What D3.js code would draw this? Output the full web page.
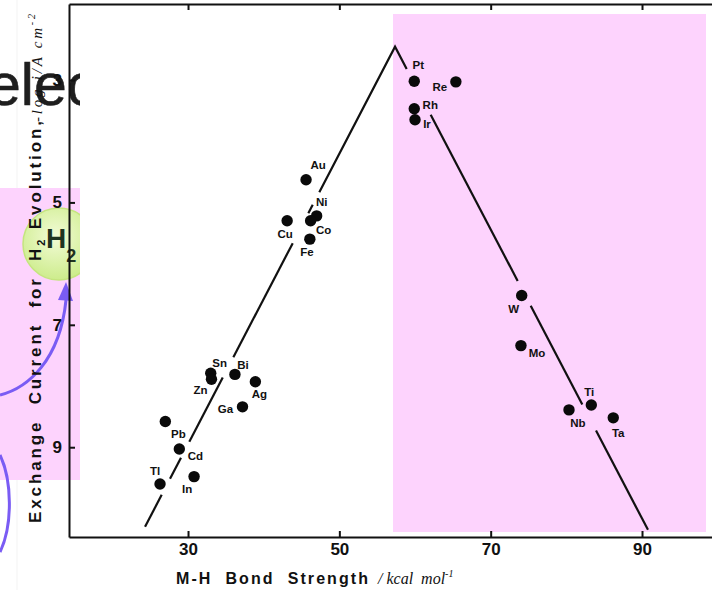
<!DOCTYPE html>
<html>
<head>
<meta charset="utf-8">
<script src="https://cdn.jsdelivr.net/npm/d3@7"></script>
<style>
  html, body { margin: 0; padding: 0; background: #fff; }
  svg { display: block; }
  text { white-space: pre; }
</style>
</head>
<body>
<svg id="chart" width="712" height="590"></svg>
<script>
// Metals and their M-H bond strength (kcal/mol) vs -log of exchange current (A/cm^2)
const metals = ["Pt", "Re", "Rh", "Ir", "Au", "Ni", "Co", "Cu", "Fe", "Sn", "Zn", "Bi", "Ag", "Ga",
                "Pb", "Cd", "Tl", "In", "W", "Mo", "Ti", "Nb", "Ta"];
const bondStrength = [59.9, 65.4, 59.9, 60.0, 45.6, 47.0, 46.2, 43.1, 46.1, 33.0, 33.1, 36.2, 38.9, 37.2,
                      27.0, 28.85, 26.3, 30.8, 74.1, 74.0, 83.3, 80.35, 86.2];
const logExchange = [3.02, 3.03, 3.47, 3.65, 4.63, 5.22, 5.30, 5.30, 5.60, 7.79, 7.89, 7.81, 7.93, 8.34,
                     8.58, 9.03, 9.60, 9.48, 6.52, 7.34, 8.31, 8.39, 8.52];

// Volcano trend: two straight branches meeting at the apex
const volcanoX = [24.32, 57.36, 90.79];
const volcanoY = [10.30, 2.456, 10.35];
// Stretches of the trend line that are drawn (it is broken around the labels)
const visibleRuns = [[24.32, 26.52], [27.62, 29.07], [30.17, 34.59], [35.99, 43.84], [45.90, 46.48],
                     [47.35, 58.90], [62.07, 73.57], [75.29, 82.11], [83.92, 90.79]];

const xTicks = [30, 50, 70, 90];
const yTicks = [3, 5, 7, 9];

// Label placement around each dot (px)
const labelOffset = {
  Pt: [4, -16], Re: [-16, 5], Rh: [16, -4], Ir: [12, 4], Au: [12, -15], Ni: [5, -14], Co: [13, 9],
  Cu: [-2, 13], Fe: [-3, 13], Sn: [9, -10], Zn: [-11, 11], Bi: [8, -9], Ag: [4, 12], Ga: [-17, 2],
  Pb: [13, 12], Cd: [16, 7], Tl: [-5, -13], In: [-7, 12], W: [-8, 14], Mo: [16, 7], Ti: [-2, -13],
  Nb: [9, 13], Ta: [5, 15]
};

const SANS = "'Liberation Sans', Arial, Helvetica, sans-serif";
const SERIF = "'Liberation Serif', 'Times New Roman', serif";
const PINK = "#fdd3fd";
const PURPLE = "#7a5cf4";

const svg = d3.select("#chart");
const plot = { left: 69, right: 712, top: 4, bottom: 537 };

const x = d3.scaleLinear().domain([14.27, 99.25]).range([plot.left, plot.right]);
const y = d3.scaleLinear().domain([1.758, 10.467]).range([plot.top, plot.bottom]);

// ---------- backdrop: highlight panels, badge and annotations ----------
const defs = svg.append("defs");
defs.append("clipPath").attr("id", "leftStrip")
  .append("rect").attr("x", 0).attr("y", 0).attr("width", 80).attr("height", 590);
const grad = defs.append("radialGradient").attr("id", "h2grad").attr("cx", "45%").attr("cy", "40%").attr("r", "60%");
grad.append("stop").attr("offset", "0%").attr("stop-color", "#f2fbd6");
grad.append("stop").attr("offset", "100%").attr("stop-color", "#cdec8c");

svg.append("line").attr("x1", 17).attr("x2", 17).attr("y1", 0).attr("y2", 590)
  .attr("stroke", "#000").attr("stroke-opacity", 0.05).attr("stroke-width", 1);

svg.append("rect").attr("x", 393).attr("y", 14).attr("width", 313).attr("height", 518).attr("fill", PINK);
svg.append("rect").attr("x", 0).attr("y", 188).attr("width", 80).attr("height", 292).attr("fill", PINK);

// large partial heading word
svg.append("g").attr("clip-path", "url(#leftStrip)")
  .append("text").attr("x", -12).attr("y", 105)
  .attr("font-family", SANS).attr("font-size", 59).attr("fill", "#1e1e1e")
  .attr("stroke", "#1e1e1e").attr("stroke-width", 0.6)
  .text("elec");

// H2 badge
const badge = svg.append("g").attr("clip-path", "url(#leftStrip)");
badge.append("circle").attr("cx", 59).attr("cy", 244).attr("r", 36)
  .attr("fill", "url(#h2grad)").attr("stroke", "#c4e57e").attr("stroke-width", 1.5);
const h2 = badge.append("text").attr("x", 46).attr("y", 248)
  .attr("font-family", SANS).attr("font-weight", "bold").attr("font-size", 28).attr("fill", "#1f3320");
h2.append("tspan").text("H");
h2.append("tspan").attr("font-size", 18).attr("dy", 14).text("2");

// purple arrows
svg.append("path").attr("d", "M0,395 C28,388 60,360 66,300")
  .attr("fill", "none").attr("stroke", PURPLE).attr("stroke-width", 3);
svg.append("path").attr("d", "M58,300 L66,282 L73,301 Z").attr("fill", PURPLE);
svg.append("path").attr("d", "M0,455 C12,480 13,525 0,552")
  .attr("fill", "none").attr("stroke", PURPLE).attr("stroke-width", 3);

// ---------- axes ----------
function styleAxis(g, fontSize) {
  g.select(".domain").attr("stroke", "#111").attr("stroke-width", 2);
  g.selectAll(".tick line").attr("stroke", "#111").attr("stroke-width", 2);
  g.selectAll(".tick text").attr("fill", "#111").attr("font-family", SANS)
    .attr("font-weight", "bold").attr("font-size", fontSize);
}

const xAxis = svg.append("g").attr("transform", `translate(0,${plot.bottom})`)
  .call(d3.axisBottom(x).tickValues(xTicks).tickSizeInner(-6).tickSizeOuter(0).tickPadding(6));
styleAxis(xAxis, 17);

const topAxis = svg.append("g").attr("transform", `translate(0,${plot.top})`)
  .call(d3.axisTop(x).tickValues(xTicks).tickSizeInner(-6).tickSizeOuter(0).tickFormat(() => ""));
styleAxis(topAxis, 17);

const yAxis = svg.append("g").attr("transform", `translate(${plot.left},0)`)
  .call(d3.axisLeft(y).tickValues(yTicks).tickSizeInner(-6).tickSizeOuter(0).tickPadding(7));
styleAxis(yAxis, 17);

// ---------- axis titles ----------
const xTitle = svg.append("g").attr("fill", "#111");
xTitle.append("text").attr("x", 176).attr("y", 584)
  .attr("font-family", SANS).attr("font-weight", "bold").attr("font-size", 16)
  .attr("textLength", 192).attr("lengthAdjust", "spacing")
  .text("M-H  Bond  Strength");
const xUnit = xTitle.append("text").attr("x", 378).attr("y", 584)
  .attr("font-family", SERIF).attr("font-style", "italic").attr("font-size", 16);
xUnit.append("tspan").text("/ kcal  mol");
xUnit.append("tspan").attr("font-size", 10).attr("dy", -7).text("-1");

const yTitle = svg.append("g").attr("fill", "#111");
const yBold = yTitle.append("text").attr("transform", "translate(41,523) rotate(-90)")
  .attr("font-family", SANS).attr("font-weight", "bold").attr("font-size", 17)
  .attr("textLength", 402).attr("lengthAdjust", "spacing");
yBold.append("tspan").text("Exchange  Current  for  H");
yBold.append("tspan").attr("font-size", 11).attr("dy", 4).text("2");
yBold.append("tspan").attr("dy", -4).text(" Evolution,");
const yUnit = yTitle.append("text").attr("transform", "translate(42,122) rotate(-90)")
  .attr("font-family", SERIF).attr("font-style", "italic").attr("font-size", 15)
  .attr("textLength", 108).attr("lengthAdjust", "spacing");
yUnit.append("tspan").text("-log i/A cm");
yUnit.append("tspan").attr("font-size", 10).attr("dy", -7).text("-2");

// ---------- volcano trend line ----------
const trendY = d3.scaleLinear().domain(volcanoX).range(volcanoY);
const line = d3.line().x(d => x(d[0])).y(d => y(d[1]));
svg.append("g").selectAll("path").data(visibleRuns).join("path")
  .attr("d", r => {
    const pts = [[r[0], trendY(r[0])]];
    volcanoX.forEach((vx, i) => { if (vx > r[0] && vx < r[1]) pts.push([vx, volcanoY[i]]); });
    pts.push([r[1], trendY(r[1])]);
    return line(pts);
  })
  .attr("fill", "none").attr("stroke", "#111").attr("stroke-width", 2.2)
  .attr("stroke-linejoin", "miter");

// ---------- metal points and labels ----------
const points = metals.map((m, i) => ({ m, bx: bondStrength[i], ly: logExchange[i] }));
const pg = svg.append("g");
pg.selectAll("circle").data(points).join("circle")
  .attr("cx", d => x(d.bx)).attr("cy", d => y(d.ly)).attr("r", 5.7).attr("fill", "#0a0a0a");
pg.selectAll("text").data(points).join("text")
  .attr("x", d => x(d.bx) + labelOffset[d.m][0])
  .attr("y", d => y(d.ly) + labelOffset[d.m][1])
  .attr("text-anchor", "middle").attr("dominant-baseline", "central")
  .attr("font-family", SANS).attr("font-weight", "bold").attr("font-size", 11.5).attr("fill", "#111")
  .text(d => d.m);
</script>
</body>
</html>
